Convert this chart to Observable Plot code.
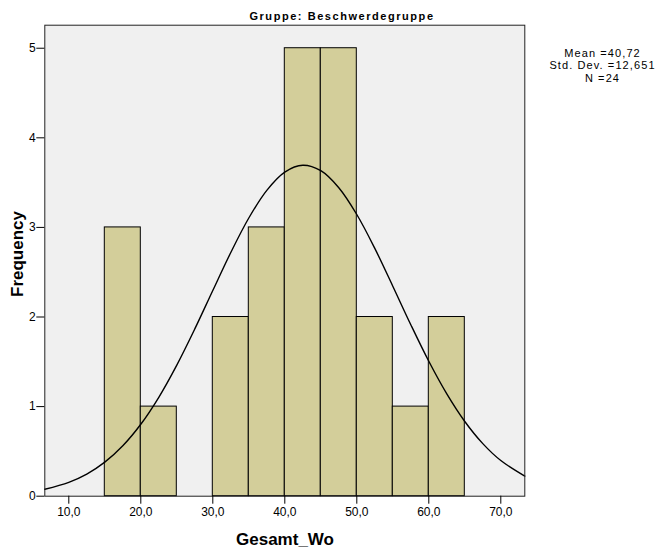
<!DOCTYPE html>
<html>
<head>
<meta charset="utf-8">
<script src="https://cdn.jsdelivr.net/npm/d3@7"></script>
<script src="https://cdn.jsdelivr.net/npm/@observablehq/plot@0.6"></script>
<style>
  html, body { margin: 0; padding: 0; background: #fff; }
  svg { display: block; }
</style>
</head>
<body>
<div id="chart"></div>
<script>
// Histogram bins (lower edge) and frequencies
const binStarts = [15, 20, 25, 30, 35, 40, 45, 50, 55, 60];
const counts    = [3, 1, 0, 2, 3, 5, 5, 2, 1, 2];
const binWidth = 5;

// Normal curve points
const curveX = [6.67, 10, 12.5, 15, 17.5, 20, 22.5, 25, 27.5, 30, 32.5, 35, 37.5, 40, 42.5, 45, 47.5, 50, 52.5, 55, 57.5, 60, 62.5, 65, 67.5, 70, 73.33];
const curveY = [0.078, 0.155, 0.247, 0.380, 0.563, 0.803, 1.104, 1.463, 1.867, 2.296, 2.720, 3.105, 3.414, 3.618, 3.694, 3.633, 3.443, 3.144, 2.766, 2.344, 1.914, 1.506, 1.142, 0.834, 0.587, 0.398, 0.224];

const xTicks = [10, 20, 30, 40, 50, 60, 70];
const yTicks = [0, 1, 2, 3, 4, 5];

const title = "Gruppe: Beschwerdegruppe";
const statsLines = ["Mean =40,72", "Std. Dev. =12,651", "N =24"];
const xLabel = "Gesamt_Wo";
const yLabel = "Frequency";

const bins = binStarts.map((s, i) => ({x1: s, x2: s + binWidth, y: counts[i]})).filter(d => d.y > 0);
const curve = curveX.map((x, i) => ({x, y: curveY[i]}));

const font = "'Liberation Sans', Arial, sans-serif";
const fmtX = d => d3.format(".1f")(d).replace(".", ",");

const chart = Plot.plot({
  width: 658,
  height: 548,
  marginLeft: 44.3,
  marginRight: 133.7,
  marginTop: 24.7,
  marginBottom: 52.3,
  style: {fontFamily: font, fontSize: "12px", color: "#000", background: "#fff"},
  x: {domain: [6.667, 73.333], ticks: xTicks, tickFormat: fmtX, label: null},
  y: {domain: [0, 5.257], ticks: yTicks, tickFormat: d3.format("d"), label: null},
  marks: [
    Plot.frame({fill: "#F0F0F0", stroke: null}),
    Plot.rect(bins, {x1: "x1", x2: "x2", y1: 0, y2: "y", fill: "#D3CE9A", stroke: "#000", strokeWidth: 1}),
    Plot.line(curve, {x: "x", y: "y", curve: "catmull-rom", stroke: "#000", strokeWidth: 1.4}),
    Plot.frame({stroke: "#222", strokeWidth: 1}),
    Plot.axisX({ticks: xTicks, tickSize: 8, tickPadding: 3, tickFormat: fmtX, fontSize: 12, stroke: "#000"}),
    Plot.axisY({ticks: yTicks, tickSize: 8, tickPadding: 1, tickFormat: d3.format("d"), fontSize: 12, stroke: "#000"})
  ]
});

const svg = d3.select(chart);
svg.append("text")
  .attr("x", 342).attr("y", 20)
  .attr("text-anchor", "middle")
  .attr("font-family", font).attr("font-size", 11).attr("font-weight", "bold")
  .attr("letter-spacing", "1.55px")
  .text(title);

statsLines.forEach((l, i) => {
  svg.append("text")
    .attr("text-anchor", "middle")
    .attr("font-family", font).attr("font-size", 11)
    .attr("letter-spacing", "1.1px")
    .attr("x", 602.5).attr("y", 56.5 + i * 12.5)
    .text(l);
});

svg.append("text")
  .attr("x", 285).attr("y", 545)
  .attr("text-anchor", "middle")
  .attr("font-family", font).attr("font-size", 17).attr("font-weight", "bold")
  .text(xLabel);

svg.append("text")
  .attr("transform", "translate(23,254) rotate(-90)")
  .attr("text-anchor", "middle")
  .attr("font-family", font).attr("font-size", 17).attr("font-weight", "bold")
  .text(yLabel);

document.getElementById("chart").appendChild(chart);
</script>
</body>
</html>
